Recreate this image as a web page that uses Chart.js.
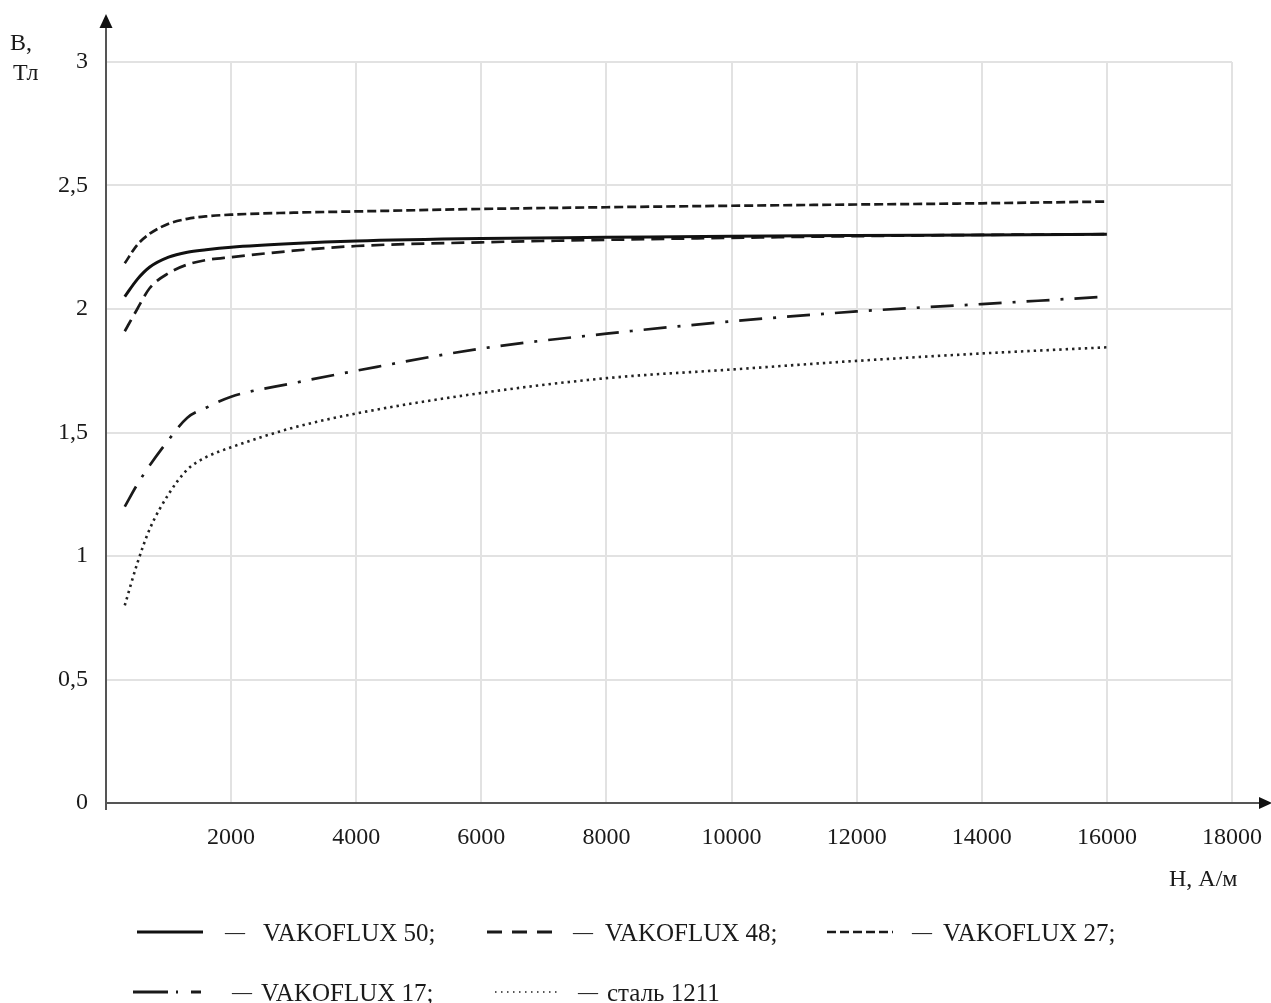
<!DOCTYPE html>
<html>
<head>
<meta charset="utf-8">
<script src="https://cdn.jsdelivr.net/npm/chart.js@4/dist/chart.umd.min.js"></script>
<style>
  html, body { margin: 0; padding: 0; background: #fff; }
  #wrap { width: 1271px; height: 1003px; position: relative; }
</style>
</head>
<body>
<div id="wrap"><canvas id="myChart"></canvas></div>
<script>
// H, A/m
const hValues = [300, 500, 700, 1000, 1300, 1600, 2000, 3000, 4000, 6000, 8000, 10000, 12000, 14000, 16000];

// B, T
const vakoflux50 = [2.05, 2.12, 2.17, 2.21, 2.23, 2.24, 2.25, 2.265, 2.275, 2.285, 2.29, 2.295, 2.298, 2.30, 2.303];
const vakoflux48 = [1.91, 2.0, 2.085, 2.145, 2.18, 2.198, 2.21, 2.236, 2.255, 2.27, 2.28, 2.288, 2.295, 2.30, 2.303];
const vakoflux27 = [2.185, 2.26, 2.305, 2.345, 2.365, 2.375, 2.382, 2.39, 2.395, 2.405, 2.412, 2.418, 2.423, 2.428, 2.435];
const vakoflux17 = [1.2, 1.29, 1.367, 1.47, 1.56, 1.60, 1.645, 1.70, 1.75, 1.84, 1.90, 1.95, 1.99, 2.02, 2.05];
const steel1211 = [0.8, 0.97, 1.11, 1.25, 1.35, 1.40, 1.44, 1.52, 1.577, 1.66, 1.72, 1.755, 1.79, 1.82, 1.845];

const xTicks = [0, 2000, 4000, 6000, 8000, 10000, 12000, 14000, 16000, 18000];
const yTicks = [0, 0.5, 1, 1.5, 2, 2.5, 3];

const FONT = "'Liberation Serif', 'Times New Roman', serif";

const toPoints = (ys) => ys.map((y, i) => ({ x: hValues[i], y: y }));

const lineBase = {
  pointRadius: 0,
  fill: false,
  cubicInterpolationMode: "monotone",
  borderCapStyle: "butt",
};

const data = {
  datasets: [
    { ...lineBase, label: "VAKOFLUX 50;", data: toPoints(vakoflux50), borderColor: "#111", borderWidth: 3 },
    { ...lineBase, label: "VAKOFLUX 48;", data: toPoints(vakoflux48), borderColor: "#1a1a1a", borderWidth: 2.7, borderDash: [13, 7] },
    { ...lineBase, label: "VAKOFLUX 27;", data: toPoints(vakoflux27), borderColor: "#1a1a1a", borderWidth: 2.7, borderDash: [9, 4] },
    { ...lineBase, label: "VAKOFLUX 17;", data: toPoints(vakoflux17), borderColor: "#1a1a1a", borderWidth: 2.7, borderDash: [23, 11, 3, 11] },
    { ...lineBase, label: "сталь 1211", data: toPoints(steel1211), borderColor: "#222", borderWidth: 2.6, borderDash: [2.4, 4] },
  ],
};

// legend samples
const legendRows = [
  [
    { dash: [], lw: 3, x0: 137, x1: 203, dashX: 225, textX: 263, y: 932 },
    { dash: [15, 10], lw: 3, x0: 487, x1: 553, dashX: 573, textX: 605, y: 932 },
    { dash: [9, 4], lw: 2.7, x0: 827, x1: 893, dashX: 912, textX: 943, y: 932 },
  ],
  [
    { dash: [35, 8, 2, 13, 10, 200], lw: 3, x0: 133, x1: 202, dashX: 232, textX: 261, y: 992 },
    { dash: [1.5, 4.5], lw: 1.6, x0: 495, x1: 558, dashX: 578, textX: 607, y: 992 },
  ],
];

const decorPlugin = {
  id: "decor",
  afterDraw(chart) {
    const ctx = chart.ctx;
    const area = chart.chartArea;
    ctx.save();

    // axes with arrows
    ctx.strokeStyle = "#555";
    ctx.fillStyle = "#111";
    ctx.lineWidth = 2;
    ctx.setLineDash([]);
    ctx.beginPath();
    ctx.moveTo(area.left, area.bottom + 7);
    ctx.lineTo(area.left, 26);
    ctx.moveTo(area.left - 1, area.bottom);
    ctx.lineTo(1262, area.bottom);
    ctx.stroke();

    ctx.beginPath();
    ctx.moveTo(area.left, 14);
    ctx.lineTo(area.left - 6.5, 28);
    ctx.lineTo(area.left + 6.5, 28);
    ctx.closePath();
    ctx.fill();

    ctx.beginPath();
    ctx.moveTo(1272, area.bottom);
    ctx.lineTo(1259, area.bottom - 6);
    ctx.lineTo(1259, area.bottom + 6);
    ctx.closePath();
    ctx.fill();

    // axis titles
    ctx.fillStyle = "#1a1a1a";
    ctx.font = "24px " + FONT;
    ctx.textAlign = "left";
    ctx.textBaseline = "alphabetic";
    ctx.fillText("B,", 10, 50);
    ctx.fillText("Тл", 13, 80);
    ctx.fillText("H, А/м", 1169, 886);

    // legend
    ctx.textBaseline = "middle";
    legendRows.forEach((row, r) => {
      row.forEach((item, i) => {
        const ds = chart.data.datasets[r * 3 + i];
        ctx.beginPath();
        ctx.setLineDash(item.dash);
        ctx.lineWidth = item.lw;
        ctx.strokeStyle = ds.borderColor;
        ctx.moveTo(item.x0, item.y);
        ctx.lineTo(item.x1, item.y);
        ctx.stroke();
        ctx.setLineDash([]);
        ctx.fillStyle = "#1a1a1a";
        ctx.font = "20px " + FONT;
        ctx.fillText("—", item.dashX, item.y + 2);
        ctx.font = "25px " + FONT;
        ctx.fillText(ds.label, item.textX, item.y + 2);
      });
    });

    ctx.restore();
  },
};

const ctx = document.getElementById("myChart").getContext("2d");

const myChart = new Chart(ctx, {
  type: "line",
  data: data,
  options: {
    responsive: true,
    maintainAspectRatio: false,
    animation: false,
    layout: {
      padding: { left: 0, right: 39, top: 62, bottom: 140 },
    },
    plugins: {
      legend: { display: false },
      tooltip: { enabled: false },
    },
    scales: {
      x: {
        type: "linear",
        min: 0,
        max: 18000,
        afterFit: (scale) => {
          scale.height = 60;
          scale.paddingLeft = 0;
          scale.paddingRight = 0;
        },
        afterBuildTicks: (scale) => { scale.ticks = xTicks.map((v) => ({ value: v })); },
        border: { display: false },
        grid: { color: "#e2e2e2", lineWidth: 2, drawTicks: false },
        ticks: {
          padding: 20,
          color: "#1a1a1a",
          font: { family: FONT, size: 24 },
          maxRotation: 0,
          callback: (v) => (v === 0 ? "" : String(v)),
        },
      },
      y: {
        min: 0,
        max: 3,
        afterFit: (scale) => {
          scale.width = 106;
          scale.paddingTop = 0;
          scale.paddingBottom = 0;
        },
        afterBuildTicks: (scale) => { scale.ticks = yTicks.map((v) => ({ value: v })); },
        border: { display: false },
        grid: { color: "#e2e2e2", lineWidth: 2, drawTicks: false },
        ticks: {
          padding: 18,
          color: "#1a1a1a",
          font: { family: FONT, size: 24 },
          callback: (v) => String(v).replace(".", ","),
        },
      },
    },
  },
  plugins: [decorPlugin],
});
</script>
</body>
</html>
